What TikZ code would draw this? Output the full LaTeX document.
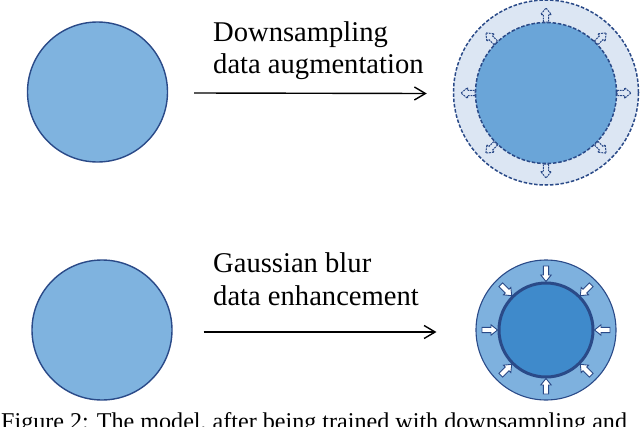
\documentclass[tikz,border=0pt]{standalone}
\usepackage{fontspec}
\setmainfont{Liberation Serif}
\usetikzlibrary{arrows.meta}
\definecolor{edgeblue}{HTML}{2A4A88}
\definecolor{plainfill}{HTML}{7FB3DF}
\definecolor{ringpale}{HTML}{DCE6F3}
\definecolor{coremid}{HTML}{6AA5D8}
\definecolor{ringmid}{HTML}{7EB1DE}
\definecolor{coredeep}{HTML}{3F8ACB}
\tikzset{
  plaindisc/.style={circle, draw=edgeblue, fill=plainfill, line width=1.4pt, minimum size=140pt, inner sep=0pt},
  dashring/.style={circle, draw=edgeblue, fill=ringpale, line width=1.5pt, dash pattern=on 3.5pt off 1.8pt, inner sep=0pt},
  dashcore/.style={circle, draw=edgeblue, fill=coremid, line width=1.5pt, dash pattern=on 3.5pt off 1.8pt, inner sep=0pt},
  solidring/.style={circle, draw=edgeblue, fill=ringmid, line width=1.1pt, inner sep=0pt},
  solidcore/.style={circle, draw=edgeblue, fill=coredeep, line width=3pt, inner sep=0pt},
  label/.style={anchor=base west, inner sep=0pt, font=\fontsize{28.6}{34}\selectfont},
  flow/.style={-{Straight Barb[length=11pt,width=13pt,line width=1.4pt]}, line width=1.4pt, black},
  outarrow/.style={draw=edgeblue, fill=ringpale, line width=1pt, dash pattern=on 1.8pt off 0.9pt},
  inarrow/.style={draw=edgeblue, fill=white, line width=0.9pt},
}
\begin{document}
\begin{tikzpicture}[x=1pt,y=-1pt]
\useasboundingbox (0,0) rectangle (640,426);
\clip (0,0) rectangle (640,426);

% top row
\node[plaindisc] (a) at (97.5,92) {};
\node[dashring, minimum size=185pt] (b) at (546,92.5) {};
\node[dashcore, minimum size=141pt] (bcore) at (546,93) {};
\foreach \ang in {0,45,...,315}{
  \begin{scope}[shift={(546,93)}, rotate=\ang]
    \path[outarrow] (71,-2.6) -- (78.5,-2.6) -- (78.5,-5.3) -- (85,0) -- (78.5,5.3) -- (78.5,2.6) -- (71,2.6) -- cycle;
  \end{scope}
}
\draw[flow] ([xshift=26pt,yshift=-1pt]a.east) -- ([xshift=-26pt,yshift=-1pt]b.west);
\node[label] (t1) at (213,41) {Downsampling};
\node[label] (t2) at (213,73) {data augmentation};

% bottom row
\node[plaindisc] (c) at (102,330) {};
\node[solidring, minimum size=140pt] (d) at (546,330) {};
\node[solidcore, minimum size=94pt] (dcore) at (546,330) {};
\foreach \ang in {0,45,...,315}{
  \begin{scope}[shift={(546,330)}, rotate=\ang]
    \path[inarrow] (64,-2.6) -- (55,-2.6) -- (55,-5.2) -- (48.5,0) -- (55,5.2) -- (55,2.6) -- (64,2.6) -- cycle;
  \end{scope}
}
\draw[flow] ([xshift=31pt,yshift=-2pt]c.east) -- ([xshift=-39pt,yshift=-2pt]d.west);
\node[label] (t3) at (213,272) {Gaussian blur};
\node[label] (t4) at (213,305) {data enhancement};

% caption (cut by the lower edge, as in the reference)
\node[anchor=base west, inner sep=0pt, font=\fontsize{24.1}{28}\selectfont] (cap) at (1,429) {Figure 2: The model, after being trained with downsampling and};
\end{tikzpicture}
\end{document}
